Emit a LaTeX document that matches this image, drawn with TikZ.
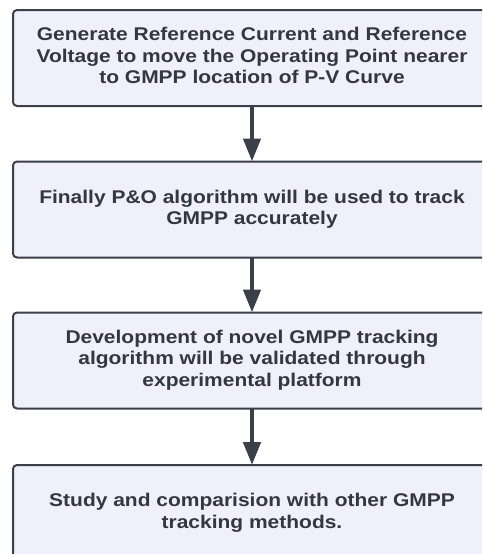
\documentclass[tikz,border=0pt]{standalone}
\usepackage{fontspec}
\setmainfont{Liberation Sans}
\usetikzlibrary{arrows.meta}
\definecolor{boxfill}{HTML}{F0F0FD}
\definecolor{boxline}{HTML}{3A3F48}
\definecolor{txt}{HTML}{333740}
\newcommand{\boxtxt}[1]{\scalebox{1.14}[1]{\begin{tabular}{@{}c@{}}#1\end{tabular}}}
\begin{document}
\begin{tikzpicture}[x=1pt,y=-1pt,
  stepbox/.style={draw=boxline,fill=boxfill,line width=2pt,rounded corners=4pt,
    minimum width=478pt,minimum height=96pt,inner sep=0pt,outer sep=0pt,
    text=txt,font=\fontsize{18.4}{21.5}\selectfont\bfseries},
  flow/.style={draw=boxline,line width=4.5pt,-{Triangle[length=23pt,width=17pt]}}]
\useasboundingbox (0,0) rectangle (482,554);
\clip (0,0) rectangle (482,554);
\fill[white] (0,0) rectangle (482,554);
\node[stepbox] (b1) at (252,58) {\boxtxt{Generate Reference Current and Reference\\Voltage to move the Operating Point nearer\\to GMPP location of P-V Curve}};
\node[stepbox] (b2) at (252,209.5) {\boxtxt{Finally P\&O algorithm will be used to track\\GMPP accurately}};
\node[stepbox] (b3) at (252,360.5) {\boxtxt{Development of novel GMPP tracking\\algorithm will be validated through\\experimental platform}};
\node[stepbox] (b4) at (252,513) {\boxtxt{Study and comparision with other GMPP\\tracking methods.}};
\draw[flow] (b1.south) -- (b2.north);
\draw[flow] (b2.south) -- (b3.north);
\draw[flow] (b3.south) -- (b4.north);
\end{tikzpicture}
\end{document}
